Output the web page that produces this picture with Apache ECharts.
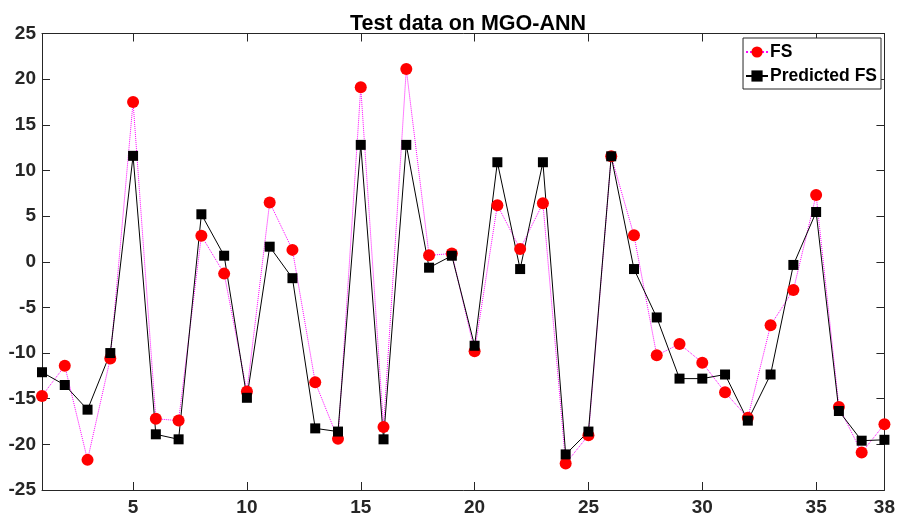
<!DOCTYPE html>
<html>
<head>
<meta charset="utf-8">
<script src="https://cdn.jsdelivr.net/npm/echarts@6/dist/echarts.min.js"></script>
<style>html,body{margin:0;padding:0;background:#fff;}#c{width:898px;height:518px;}</style>
</head>
<body>
<div id="c"></div>
<script>
const sampleIndex = [1,2,3,4,5,6,7,8,9,10,11,12,13,14,15,16,17,18,19,20,21,22,23,24,25,26,27,28,29,30,31,32,33,34,35,36,37,38];
const fsValues = [-14.7,-11.4,-21.7,-10.6,17.5,-17.2,-17.4,2.85,-1.3,-14.2,6.5,1.3,-13.2,-19.4,19.1,-18.1,21.1,0.7,0.9,-9.8,6.2,1.4,6.4,-22.1,-19.0,11.55,2.9,-10.25,-9.0,-11.05,-14.3,-17.1,-6.95,-3.1,7.3,-15.9,-20.9,-17.8];
const predictedValues = [-12.1,-13.5,-16.2,-10.0,11.6,-18.9,-19.45,5.2,0.66,-14.9,1.65,-1.8,-18.25,-18.6,12.8,-19.45,12.8,-0.65,0.66,-9.2,10.9,-0.8,10.9,-21.1,-18.6,11.55,-0.8,-6.1,-12.8,-12.8,-12.35,-17.4,-12.35,-0.35,5.45,-16.35,-19.6,-19.5];
const xTickValues = [5,10,15,20,25,30,35];
const xTickLabels = [5,10,15,20,25,30,35,38];
const seriesNames = ['FS','Predicted FS'];
const titleText = 'Test data on MGO-ANN';

const axisColor = '#262626';
const font = 'Liberation Sans, Arial, Helvetica, sans-serif';
const chart = echarts.init(document.getElementById('c'));
const baseX = {
  type: 'value', min: 1, max: 38,
  axisLine: { show: true, onZero: false, lineStyle: { color: axisColor, width: 1 } },
  axisTick: { show: true, inside: true, length: 8, customValues: xTickValues, lineStyle: { color: axisColor } },
  splitLine: { show: false }
};
const baseY = {
  type: 'value', min: -25, max: 25, interval: 5,
  axisLine: { show: true, onZero: false, lineStyle: { color: axisColor, width: 1 } },
  axisTick: { show: true, inside: true, length: 8, lineStyle: { color: axisColor } },
  splitLine: { show: false }
};
chart.setOption({
  animation: false,
  backgroundColor: '#fff',
  title: {
    text: titleText, left: 463, top: 8, textAlign: 'center',
    textStyle: { fontFamily: font, fontWeight: 'bold', fontSize: 21.5, color: '#000' }
  },
  grid: { left: 42, right: 12, top: 33.5, bottom: 28, containLabel: false },
  legend: {
    orient: 'vertical', right: 17, top: 38,
    data: seriesNames,
    backgroundColor: '#fff', borderColor: axisColor, borderWidth: 1, borderRadius: 0,
    padding: [5, 4, 4, 2], itemGap: 6, itemWidth: 22, itemHeight: 14,
    textStyle: { fontFamily: font, fontWeight: 'bold', fontSize: 17.5, color: '#000', padding: [0,0,0,-3] }
  },
  xAxis: [
    Object.assign({}, baseX, {
      position: 'bottom',
      axisLabel: { show: true, customValues: xTickLabels, margin: 8, fontFamily: font, fontWeight: 'bold', fontSize: 19, color: axisColor }
    }),
    Object.assign({}, baseX, { position: 'top', axisLabel: { show: false } })
  ],
  yAxis: [
    Object.assign({}, baseY, {
      position: 'left',
      axisLabel: { show: true, margin: 6, fontFamily: font, fontWeight: 'bold', fontSize: 19, color: axisColor }
    }),
    Object.assign({}, baseY, { position: 'right', axisLabel: { show: false } })
  ],
  series: [
    {
      name: seriesNames[0], type: 'line', xAxisIndex: 0, yAxisIndex: 0,
      data: sampleIndex.map((x, i) => [x, fsValues[i]]),
      symbol: 'circle', symbolSize: 12,
      itemStyle: { color: '#ff0000' },
      lineStyle: { color: '#ff00ff', width: 1, type: 'dotted' }
    },
    {
      name: seriesNames[1], type: 'line', xAxisIndex: 0, yAxisIndex: 0,
      data: sampleIndex.map((x, i) => [x, predictedValues[i]]),
      symbol: 'rect', symbolSize: 10,
      itemStyle: { color: '#000000' },
      lineStyle: { color: '#000000', width: 1 }
    }
  ]
});
</script>
</body>
</html>
